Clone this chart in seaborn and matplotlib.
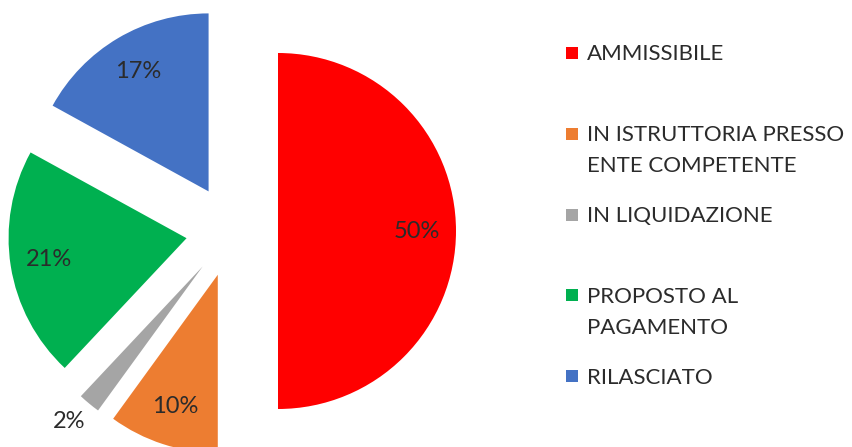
import matplotlib
matplotlib.use("Agg")
import matplotlib.pyplot as plt
from matplotlib.patches import Rectangle
import numpy as np
import seaborn as sns

# Dati del grafico
categories = ["AMMISSIBILE",
              "IN ISTRUTTORIA PRESSO\nENTE COMPETENTE",
              "IN LIQUIDAZIONE",
              "PROPOSTO AL\nPAGAMENTO",
              "RILASCIATO"]
percentages = [50, 10, 2, 21, 17]
colors = ["#FF0000", "#ED7D31", "#A5A5A5", "#00B050", "#4472C4"]

TEXT = "#2b2b2b"

sns.set_theme(style="white")
plt.rcParams['font.family'] = ['Lato', 'DejaVu Sans']

# figura in pixel: 1 unità dati = 1 pixel
W, H = 852, 447
fig = plt.figure(figsize=(W / 100, H / 100), dpi=100)
ax = fig.add_axes([0, 0, 1, 1])

wedges, texts, autotexts = ax.pie(
    percentages,
    colors=colors,
    startangle=90,
    counterclock=False,
    explode=[46] * len(percentages),
    radius=178,
    center=(232, H - 231),
    autopct='%1.0f%%',
    pctdistance=0.78,
    wedgeprops=dict(linewidth=0),
    textprops=dict(fontsize=17, color=TEXT),
)

# l'etichetta della fetta piccola va fuori
for w, t, p in zip(wedges, autotexts, percentages):
    if p < 5:
        th = np.deg2rad((w.theta1 + w.theta2) / 2)
        cx, cy = w.center
        t.set_position((cx + 1.15 * w.r * np.cos(th) - 3, cy + 1.15 * w.r * np.sin(th) + 3))

ax.set_xlim(0, W)
ax.set_ylim(0, H)
ax.set_aspect('equal')
ax.axis('off')

# Legenda (allineata alla prima riga, come in Excel)
for i, (lab, col) in enumerate(zip(categories, colors)):
    y = 53 + i * 80.8
    ax.add_patch(Rectangle((566, H - y - 6), 12, 12, color=col, linewidth=0))
    ax.text(587, H - y + 8.5, lab, fontsize=16, color=TEXT,
            va='top', ha='left', linespacing=1.7)

fig.savefig("out.png", dpi=100)
